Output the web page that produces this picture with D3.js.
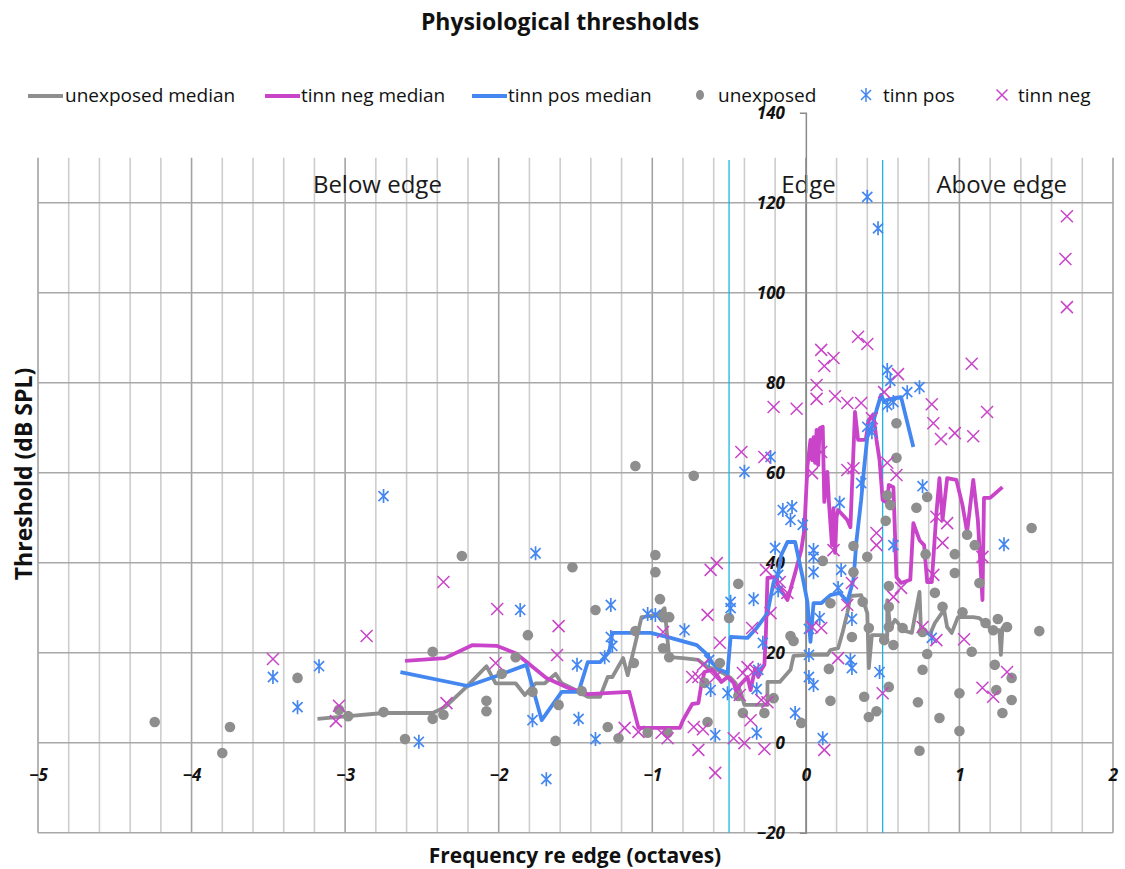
<!DOCTYPE html>
<html>
<head>
<meta charset="utf-8">
<script src="https://cdn.jsdelivr.net/npm/d3@7"></script>
<style>
  body { margin: 0; background: #fff; }
  text { font-family: "Open Sans", "DejaVu Sans", sans-serif; fill: #111; }
</style>
</head>
<body>
<svg id="chart" width="1125" height="869"></svg>
<script>
// ---- axis ticks ----
const xTicks = [-5, -4, -3, -2, -1, 0, 1, 2];
const yTicks = [-20, 0, 20, 40, 60, 80, 100, 120, 140];
const yGrid = [-20, 0, 20, 40, 60, 80, 100, 120];
const edgeBounds = [-0.5, 0.5];

// ---- median curves [octaves re edge, dB SPL] ----
const unexposedMedian = [
  [-3.18,5.3],[-2.98,5.9],[-2.75,6.6],[-2.43,6.6],[-2.35,7.9],[-2.21,12.4],[-2.08,17.0],[-2.02,13.2],
  [-1.89,13.2],[-1.83,10.6],[-1.76,13.2],[-1.70,13.2],[-1.63,15.3],[-1.59,13.2],[-1.50,11.7],[-1.42,10.2],
  [-1.34,10.2],[-1.29,14.6],[-1.26,14.6],[-1.19,18.8],[-1.16,15.0],[-1.07,27.9],[-0.96,28.4],[-0.92,29.9],
  [-0.89,19.0],[-0.80,18.8],[-0.70,18.4],[-0.64,16.8],[-0.58,16.2],[-0.54,15.5],[-0.49,14.4],[-0.46,13.3],
  [-0.43,11.7],[-0.40,8.4],[-0.25,8.4],[-0.25,13.5],[-0.17,13.5],[-0.10,16.2],[-0.08,19.3],[0.01,19.5],
  [0.14,19.5],[0.16,20.6],[0.21,21.0],[0.24,24.6],[0.27,28.8],[0.29,32.6],[0.36,32.8],[0.40,28.8],
  [0.41,16.6],[0.43,23.9],[0.50,23.9],[0.53,23.7],[0.53,31.7],[0.55,25.5],[0.58,27.3],[0.60,26.6],
  [0.63,25.0],[0.69,24.4],[0.74,33.5],[0.75,24.6],[0.81,24.2],[0.84,26.6],[0.90,29.5],[0.92,25.7],
  [0.95,24.4],[0.99,27.9],[1.01,27.9],[1.09,27.9],[1.13,27.7],[1.18,26.1],[1.21,25.0],[1.26,25.0],
  [1.27,19.5],[1.28,25.5],[1.32,25.7]
];
const tinnNegMedian = [
  [-2.61,18.2],[-2.35,18.8],[-2.17,21.7],[-2.01,21.5],[-1.89,19.9],[-1.81,17.7],[-1.69,14.4],[-1.55,12.2],
  [-1.42,10.8],[-1.15,11.3],[-1.09,3.3],[-0.82,3.3],[-0.80,5.0],[-0.74,8.6],[-0.70,8.8],[-0.68,13.0],
  [-0.66,15.7],[-0.61,16.2],[-0.57,14.6],[-0.55,13.5],[-0.51,14.6],[-0.47,13.3],[-0.45,11.0],[-0.43,12.8],
  [-0.38,14.6],[-0.36,11.7],[-0.33,16.6],[-0.31,14.6],[-0.29,16.2],[-0.27,17.3],[-0.26,24.4],[-0.25,36.6],
  [-0.21,36.8],[-0.19,35.5],[-0.12,31.7],[-0.07,37.7],[-0.03,42.8],[-0.01,47.3],[0.01,61.3],[0.03,67.3],
  [0.04,62.8],[0.05,67.9],[0.06,62.2],[0.07,69.5],[0.08,61.7],[0.09,69.9],[0.11,70.2],[0.12,53.5],
  [0.14,60.2],[0.15,53.5],[0.17,43.9],[0.18,52.1],[0.19,42.2],[0.20,50.2],[0.21,51.7],[0.27,49.5],
  [0.29,47.9],[0.32,73.5],[0.34,67.3],[0.39,67.3],[0.41,71.7],[0.44,73.0],[0.46,67.3],[0.48,62.8],
  [0.50,53.9],[0.53,53.3],[0.54,57.3],[0.57,56.8],[0.59,36.8],[0.62,35.5],[0.68,36.2],[0.70,48.8],
  [0.74,45.0],[0.77,43.9],[0.79,35.7],[0.82,35.7],[0.85,51.0],[0.87,58.8],[0.89,49.5],[0.92,58.8],
  [0.98,58.4],[1.02,52.8],[1.05,46.8],[1.09,58.4],[1.12,49.5],[1.15,31.7],[1.16,54.4],[1.20,54.4],
  [1.28,56.8]
];
const tinnPosMedian = [
  [-2.64,15.7],[-2.20,12.6],[-2.00,15.0],[-1.82,17.3],[-1.72,5.0],[-1.59,11.3],[-1.48,11.3],[-1.42,17.9],
  [-1.34,17.9],[-1.28,20.2],[-1.26,24.4],[-1.01,24.4],[-0.88,23.3],[-0.71,21.7],[-0.64,19.5],[-0.61,17.7],
  [-0.56,16.2],[-0.51,15.5],[-0.49,23.5],[-0.38,23.3],[-0.32,25.5],[-0.25,28.8],[-0.21,35.7],[-0.18,37.7],
  [-0.16,41.7],[-0.12,44.6],[-0.07,44.6],[-0.02,36.6],[0.01,31.3],[0.03,22.4],[0.05,31.0],[0.10,31.0],
  [0.16,32.8],[0.22,33.3],[0.27,31.3],[0.31,36.2],[0.33,45.0],[0.36,53.9],[0.38,61.3],[0.40,67.9],
  [0.43,70.2],[0.46,73.9],[0.49,77.3],[0.51,75.7],[0.53,76.2],[0.58,76.6],[0.62,76.8],[0.70,65.7]
];

// ---- individual thresholds [octaves re edge, dB SPL] ----
const unexposed = [
  [-4.24,4.6],[-3.80,-2.3],[-3.75,3.5],[-3.31,14.4],[-3.04,7.3],[-2.98,5.9],[-2.75,6.8],[-2.61,0.8],
  [-2.43,20.2],[-2.43,5.3],[-2.36,6.2],[-2.24,41.5],[-2.08,9.3],[-2.08,7.0],[-1.98,15.3],[-1.89,19.0],
  [-1.81,23.9],[-1.78,11.3],[-1.63,0.4],[-1.61,8.4],[-1.52,39.0],[-1.46,11.5],[-1.37,29.5],[-1.29,3.5],
  [-1.22,1.0],[-1.11,24.8],[-1.12,17.7],[-1.03,2.2],[-0.98,41.7],[-0.98,37.9],[-0.95,31.9],[-0.93,27.9],
  [-0.89,27.9],[-0.93,21.0],[-0.89,19.0],[-0.90,2.2],[-1.11,61.5],[-0.73,59.3],[-0.44,35.3],[-0.64,4.6],
  [-0.56,17.7],[-0.50,27.7],[-0.41,6.6],[-0.66,13.3],[-0.44,10.4],[-0.27,6.6],[-0.21,9.9],[-0.10,23.7],
  [-0.08,22.6],[-0.03,4.4],[0.11,40.4],[0.16,31.0],[0.15,16.4],[0.16,9.3],[0.31,43.7],[0.31,37.9],
  [0.37,31.3],[0.30,23.5],[0.40,41.3],[0.41,25.5],[0.38,10.2],[0.41,5.7],[0.46,7.0],[0.59,71.0],
  [0.59,63.3],[0.53,55.0],[0.55,52.8],[0.52,49.3],[0.54,34.8],[0.54,30.2],[0.54,25.7],[0.51,22.8],
  [0.57,21.7],[0.54,12.4],[0.72,52.2],[0.79,54.6],[0.78,41.9],[0.84,33.3],[0.89,30.2],[0.76,24.6],
  [0.79,19.7],[0.76,16.2],[0.73,9.0],[0.74,-1.8],[0.87,5.5],[0.97,41.9],[0.97,37.7],[1.02,29.0],
  [1.08,20.2],[1.00,11.0],[1.00,2.6],[1.05,46.2],[1.10,43.9],[1.13,35.5],[1.17,26.6],[1.23,17.3],
  [1.24,11.7],[1.28,6.6],[1.25,27.5],[1.31,25.7],[1.34,14.4],[1.34,9.5],[1.47,47.7],[1.52,24.8],
  [0.63,25.5],[1.22,25.0]
];
const tinnPos = [
  [-3.47,14.6],[-3.31,7.9],[-3.17,17.0],[-2.75,54.8],[-2.52,0.2],[-1.76,42.1],[-1.86,29.5],[-1.78,5.0],
  [-1.69,-8.1],[-1.49,17.3],[-1.48,5.3],[-1.37,0.8],[-1.27,30.6],[-1.31,19.0],[-1.27,23.5],[-1.26,21.5],
  [-1.03,28.6],[-0.98,28.4],[-0.79,25.0],[-0.63,18.4],[-0.62,11.7],[-0.59,1.7],[-0.49,31.3],[-0.49,29.9],
  [-0.51,11.0],[-0.34,31.9],[-0.32,11.9],[-0.32,2.2],[-0.28,22.2],[-0.31,16.2],[-0.20,43.3],[-0.18,37.3],
  [-0.18,33.9],[0.02,25.3],[0.02,19.5],[0.02,14.6],[0.05,12.8],[-0.07,6.6],[0.05,42.8],[0.05,41.3],
  [0.05,37.9],[0.09,27.7],[0.11,1.0],[-0.40,60.2],[-0.23,63.5],[-0.15,51.7],[-0.09,52.4],[-0.10,49.5],
  [-0.02,48.4],[0.22,53.3],[0.23,38.4],[0.21,34.4],[0.30,27.5],[0.29,18.4],[0.30,16.6],[0.36,57.7],
  [0.48,15.7],[0.57,43.9],[0.76,57.0],[0.82,23.3],[1.29,44.1],[0.40,121.3],[0.47,114.3],[0.53,82.8],
  [0.55,80.4],[0.66,77.9],[0.74,79.0],[0.53,75.0],[0.57,75.7],[0.40,70.2],[0.43,69.0]
];
const tinnNeg = [
  [-3.47,18.6],[-3.04,8.2],[-3.06,4.8],[-2.86,23.7],[-2.36,35.7],[-2.34,8.8],[-2.01,29.7],[-2.02,17.7],
  [-1.61,25.9],[-1.62,19.5],[-1.18,3.3],[-1.09,2.4],[-0.93,24.6],[-0.94,2.2],[-0.90,1.0],[-0.62,38.4],
  [-0.58,39.9],[-0.64,28.4],[-0.56,22.2],[-0.74,14.6],[-0.70,14.6],[-0.67,17.3],[-0.59,14.6],[-0.73,3.5],
  [-0.67,3.0],[-0.70,-1.6],[-0.59,-6.7],[-0.47,1.0],[-0.40,-0.1],[-0.27,-1.4],[-0.35,25.5],[-0.23,28.8],
  [-0.26,38.4],[-0.38,16.8],[-0.33,16.2],[-0.41,15.5],[-0.43,10.6],[-0.29,9.5],[-0.36,5.0],[-0.25,9.0],
  [-0.17,35.7],[0.04,25.7],[0.10,25.5],[0.12,-1.6],[-0.42,64.6],[-0.27,63.5],[0.04,59.9],[0.10,64.6],
  [0.18,42.8],[0.21,18.8],[0.27,60.6],[0.31,61.0],[0.27,30.6],[0.30,35.5],[0.46,46.6],[0.46,43.9],
  [0.53,62.2],[0.59,59.5],[0.57,32.4],[0.62,34.4],[0.50,11.0],[0.76,25.7],[0.85,22.8],[0.83,37.3],
  [0.89,44.4],[0.92,48.8],[0.85,50.2],[1.03,23.0],[1.15,12.2],[1.22,10.2],[1.31,15.7],[1.15,41.3],
  [0.83,71.0],[0.88,67.5],[0.97,68.8],[1.09,68.1],[0.34,90.2],[0.40,88.6],[0.10,87.3],[0.12,83.7],
  [0.18,85.5],[0.07,79.5],[0.07,76.4],[0.19,77.0],[-0.21,74.6],[-0.06,74.2],[0.27,75.5],[0.36,75.5],
  [0.60,81.9],[0.51,77.9],[0.82,75.2],[1.08,84.2],[1.18,73.5],[1.70,117.0],[1.69,107.5],[1.70,96.8],
  [0.43,72.1],[-0.12,33.3]
];

// ---- colours ----
const GREY = "#8e8e8e", PINK = "#c944c9", BLUE = "#4487f0", CYAN = "#1eb4e6";

const svg = d3.select("#chart");
const x = d3.scaleLinear().domain([-5, 2]).range([38, 1113]);
const y = d3.scaleLinear().domain([-20, 140]).range([832.7, 112.7]);
const plotTop = 130;

// gridlines
const gGrid = svg.append("g");
const minorX = d3.range(-5, 2.0001, 0.2).map(v => Math.round(v * 10) / 10);
gGrid.selectAll("line.vx").data(minorX).join("line")
  .attr("x1", d => x(d)).attr("x2", d => x(d))
  .attr("y1", y(plotTop)).attr("y2", y(-20))
  .attr("stroke", d => Number.isInteger(d) ? "#a3a3a3" : "#cdcdcd")
  .attr("stroke-width", 1.6);
gGrid.selectAll("line.hy").data(yGrid).join("line")
  .attr("x1", x(-5)).attr("x2", x(2))
  .attr("y1", d => y(d)).attr("y2", d => y(d))
  .attr("stroke", "#a8a8a8").attr("stroke-width", 1.6);

// edge-region boundaries
svg.append("g").selectAll("line").data(edgeBounds).join("line")
  .attr("x1", d => x(d)).attr("x2", d => x(d))
  .attr("y1", y(129.5)).attr("y2", y(-20))
  .attr("stroke", CYAN).attr("stroke-width", 1.3);

// region captions
const regions = [["Below edge", -3.21], ["Edge", -0.16], ["Above edge", 0.85]];
svg.append("g").selectAll("text").data(regions).join("text")
  .attr("x", d => x(d[1])).attr("y", 193)
  .attr("font-size", 24).style("fill", "#1a1a1a")
  .text(d => d[0]);

// y axis through x = 0
const yAxis = d3.axisLeft(y).tickValues(yTicks).tickSize(0).tickSizeOuter(6).tickPadding(21);
const gy = svg.append("g").attr("transform", `translate(${x(0)},0)`).call(yAxis);
gy.select(".domain").attr("stroke", "#8a8a8a").attr("stroke-width", 1.5);
gy.selectAll("text").attr("font-size", 17).attr("font-weight", 700).attr("font-style", "italic")
  .attr("font-family", "'Open Sans', sans-serif").style("fill", "#111");

// x axis labels along y = 0
const xAxis = d3.axisBottom(x).tickValues(xTicks).tickSize(0).tickPadding(26).tickFormat(d3.format("d"));
const gx = svg.append("g").attr("transform", `translate(0,${y(0)})`).call(xAxis);
gx.select(".domain").remove();
gx.selectAll("text").attr("font-size", 17).attr("font-weight", 700).attr("font-style", "italic")
  .attr("font-family", "'Open Sans', sans-serif").style("fill", "#111");

// median curves
const line = d3.line().x(d => x(d[0])).y(d => y(d[1]));
const curves = [[unexposedMedian, GREY], [tinnNegMedian, PINK], [tinnPosMedian, BLUE]];
svg.append("g").selectAll("path").data(curves).join("path")
  .attr("d", d => line(d[0])).attr("fill", "none")
  .attr("stroke", d => d[1]).attr("stroke-width", 3.8)
  .attr("stroke-linejoin", "round").attr("stroke-linecap", "butt");

// marker shapes
function starPath(s) {
  const p = d3.path();
  p.moveTo(-s * 0.72, -s * 0.72); p.lineTo(s * 0.72, s * 0.72);
  p.moveTo(-s * 0.72, s * 0.72); p.lineTo(s * 0.72, -s * 0.72);
  p.moveTo(0, -s); p.lineTo(0, s);
  return p.toString();
}
function crossPath(s) {
  const p = d3.path();
  p.moveTo(-s, -s); p.lineTo(s, s);
  p.moveTo(-s, s); p.lineTo(s, -s);
  return p.toString();
}

// scatter points
svg.append("g").selectAll("circle").data(unexposed).join("circle")
  .attr("cx", d => x(d[0])).attr("cy", d => y(d[1])).attr("r", 5.3).attr("fill", GREY);
svg.append("g").selectAll("path").data(tinnPos).join("path")
  .attr("transform", d => `translate(${x(d[0])},${y(d[1])})`)
  .attr("d", starPath(7)).attr("stroke", BLUE).attr("stroke-width", 1.7).attr("fill", "none");
svg.append("g").selectAll("path").data(tinnNeg).join("path")
  .attr("transform", d => `translate(${x(d[0])},${y(d[1])})`)
  .attr("d", crossPath(6)).attr("stroke", PINK).attr("stroke-width", 1.5).attr("fill", "none");

// title and axis titles
svg.append("text").attr("x", 560).attr("y", 30).attr("text-anchor", "middle")
  .attr("font-size", 23).attr("font-weight", 700).text("Physiological thresholds");
svg.append("text").attr("x", 575).attr("y", 863).attr("text-anchor", "middle")
  .attr("font-size", 21).attr("font-weight", 700).text("Frequency re edge (octaves)");
svg.append("text").attr("transform", "translate(32,474) rotate(-90)").attr("text-anchor", "middle")
  .attr("font-size", 23).attr("font-weight", 700).text("Threshold (dB SPL)");

// legend
const legend = [
  { label: "unexposed median", kind: "line", color: GREY, mx: 28, tx: 65 },
  { label: "tinn neg median", kind: "line", color: PINK, mx: 265, tx: 301 },
  { label: "tinn pos median", kind: "line", color: BLUE, mx: 472, tx: 508 },
  { label: "unexposed", kind: "dot", color: GREY, mx: 700, tx: 718 },
  { label: "tinn pos", kind: "star", color: BLUE, mx: 866, tx: 883 },
  { label: "tinn neg", kind: "cross", color: PINK, mx: 1002, tx: 1018 }
];
const ly = 96;
const gl = svg.append("g");
legend.forEach(it => {
  if (it.kind === "line") {
    gl.append("line").attr("x1", it.mx).attr("x2", it.mx + 35).attr("y1", ly).attr("y2", ly)
      .attr("stroke", it.color).attr("stroke-width", 4);
  } else if (it.kind === "dot") {
    gl.append("ellipse").attr("cx", it.mx).attr("cy", ly - 1).attr("rx", 4).attr("ry", 5).attr("fill", it.color);
  } else if (it.kind === "star") {
    gl.append("path").attr("transform", `translate(${it.mx},${ly - 1})`).attr("d", starPath(7))
      .attr("stroke", it.color).attr("stroke-width", 1.5).attr("fill", "none");
  } else {
    gl.append("path").attr("transform", `translate(${it.mx},${ly - 1})`).attr("d", crossPath(5.5))
      .attr("stroke", it.color).attr("stroke-width", 1.5).attr("fill", "none");
  }
  gl.append("text").attr("x", it.tx).attr("y", ly + 6).attr("font-size", 19).style("fill", "#111").text(it.label);
});
</script>
</body>
</html>
